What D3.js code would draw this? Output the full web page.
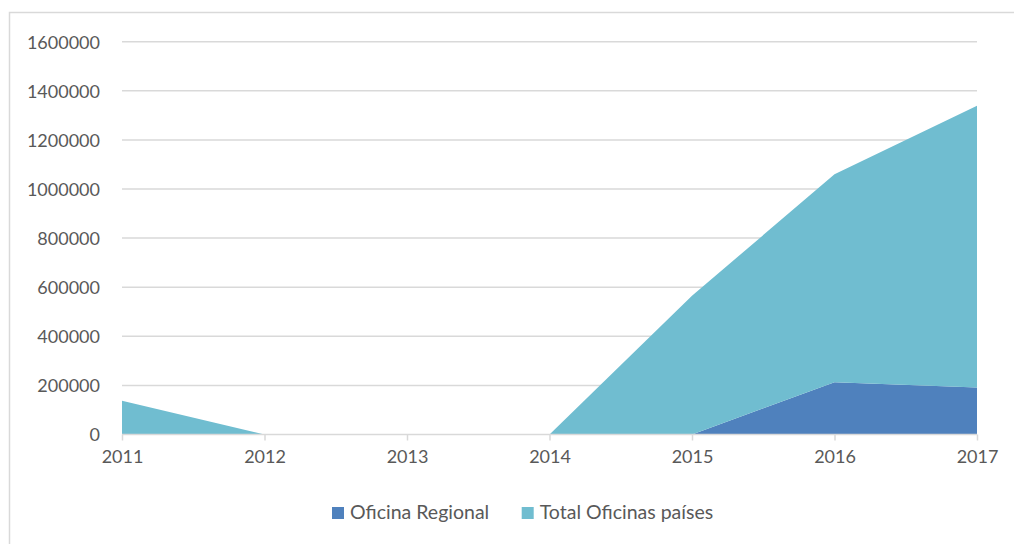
<!DOCTYPE html>
<html><head><meta charset="utf-8">
<script src="https://cdn.jsdelivr.net/npm/d3@7"></script>
<style>body{margin:0;background:#fff}svg{display:block}text{font-family:Lato,"Open Sans",sans-serif}</style>
</head><body><svg id="c" width="1014" height="544"></svg>
<script>
const years = ["2011","2012","2013","2014","2015","2016","2017"];
const oficinaRegional = [0, 0, 0, 0, 0, 213000, 191000];
const totalOficinasPaises = [137000, 0, 0, 0, 565000, 847000, 1148000];
const yTicks = [0, 200000, 400000, 600000, 800000, 1000000, 1200000, 1400000, 1600000];
const seriesNames = ["Oficina Regional", "Total Oficinas países"];
const colors = ["#4f81bd", "#70bdd0"];

const svg = d3.select("#c");
svg.append("path").attr("d","M9.5,544 V12.5 H1014").attr("fill","none").attr("stroke","#d9d9d9").attr("stroke-width",1.5);

const x = d3.scalePoint().domain(years).range([122, 977]);
const y = d3.scaleLinear().domain([0, 1600000]).range([434.5, 41.7]);

const g = svg.append("g");
g.selectAll("line.grid").data(yTicks.slice(1)).join("line")
  .attr("x1", 122).attr("x2", 977).attr("y1", d=>y(d)).attr("y2", d=>y(d))
  .attr("stroke","#d9d9d9").attr("stroke-width",1.5);

const data = years.map((yr,i)=>({year:yr, r:oficinaRegional[i], t:totalOficinasPaises[i]}));
const stack = d3.stack().keys(["r","t"])(data);
const area = d3.area().x(d=>x(d.data.year)).y0(d=>y(d[0])).y1(d=>y(d[1]));
g.selectAll("path.area").data(stack).join("path")
  .attr("d", area).attr("fill",(d,i)=>colors[i]);

const yAxis = d3.axisLeft(y).tickValues(yTicks).tickSize(0).tickPadding(0).tickFormat(d3.format("d"));
const ya = svg.append("g").attr("transform","translate(100,0)").call(yAxis);
ya.select(".domain").remove();
ya.selectAll("text").attr("fill","#595959").style("font-size","18px").attr("dy","0.36em");

const xAxis = d3.axisBottom(x).tickSize(6).tickPadding(10);
const xa = svg.append("g").attr("transform","translate(0,434.5)").call(xAxis);
xa.select(".domain").attr("stroke","#d9d9d9").attr("stroke-width",1.5).attr("d","M122,0H977");
xa.selectAll(".tick line").attr("stroke","#d9d9d9").attr("stroke-width",1.5);
xa.selectAll("text").attr("fill","#595959").style("font-size","18px");

const lg = svg.append("g");
const lx = [332, 521.7];
seriesNames.forEach((n,i)=>{
  lg.append("rect").attr("x",lx[i]).attr("y",507).attr("width",12).attr("height",12).attr("fill",colors[i]);
  lg.append("text").attr("x",lx[i]+18).attr("y",519).attr("fill","#595959").style("font-size","19.5px").text(n);
});
</script></body></html>
